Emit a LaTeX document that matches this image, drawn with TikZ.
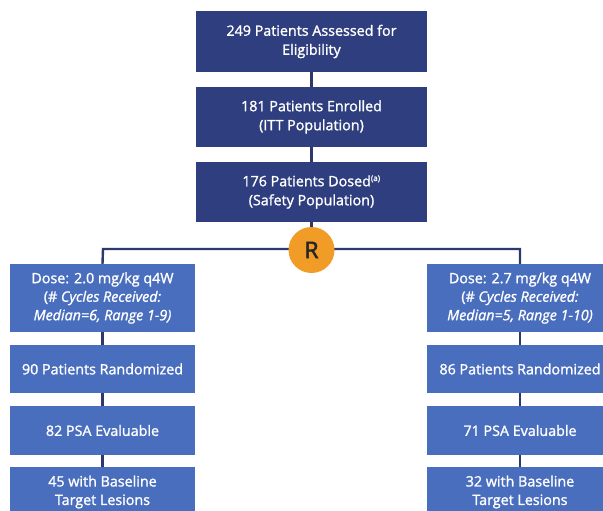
\documentclass[tikz,border=0pt]{standalone}
\usepackage{fontspec}
\setmainfont{Open Sans}
\newfontfamily\semib{Open Sans}[FakeBold=1.4,ItalicFeatures={FakeBold=1.2}]
\newfontfamily\rfont{Open Sans}[FakeBold=2]
\begin{document}
\begin{tikzpicture}[x=1pt,y=-1pt,
  topbox/.style={fill=topblue,draw=none,text=white,align=center,font=\semib\fontsize{14.3}{19}\selectfont,inner sep=0pt},
  lowbox/.style={fill=lowblue,draw=none,text=white,align=center,font=\semib\fontsize{14.3}{18.5}\selectfont,inner sep=0pt},
  conn/.style={draw=linecol,line width=2.4pt}]
\definecolor{topblue}{RGB}{47,62,126}
\definecolor{lowblue}{RGB}{74,110,190}
\definecolor{linecol}{RGB}{44,56,110}
\definecolor{orangeR}{RGB}{242,156,40}
\useasboundingbox (0,0) rectangle (603,511);
\begin{scope}
\clip (0,0) rectangle (603,511);
% top boxes
\node[topbox,minimum width=231pt,minimum height=61pt] (a) at (311.5,41.5) {249 Patients Assessed for\\Eligibility};
\node[topbox,minimum width=231pt,minimum height=60pt] (b) at (311.5,117) {181 Patients Enrolled\\(ITT Population)};
\node[topbox,minimum width=231pt,minimum height=60pt] (c) at (311.5,192) {176 Patients Dosed\textsuperscript{\fontsize{8}{8}\selectfont(a)}\\(Safety Population)};
% R circle
\coordinate (hl) at (103,249);
\coordinate (hr) at (520,249);
% left column
\node[lowbox,minimum width=185pt,minimum height=68pt] (l1) at (102.5,298) {Dose: 2.0 mg/kg q4W\\(\# \textit{Cycles Received:}\\\textit{Median=6, Range 1-9)}};
\node[lowbox,minimum width=185pt,minimum height=48pt] (l2) at (102.5,369) {90 Patients Randomized};
\node[lowbox,minimum width=185pt,minimum height=49pt] (l3) at (102.5,430.5) {82 PSA Evaluable};
\node[lowbox,minimum width=185pt,minimum height=50pt] (l4) at (102.5,492) {45 with Baseline\\Target Lesions};
% right column
\node[lowbox,minimum width=186pt,minimum height=68pt] (r1) at (520,298) {Dose: 2.7 mg/kg q4W\\(\# \textit{Cycles Received:}\\\textit{Median=5, Range 1-10)}};
\node[lowbox,minimum width=186pt,minimum height=48pt] (r2) at (520,369) {86 Patients Randomized};
\node[lowbox,minimum width=186pt,minimum height=49pt] (r3) at (520,430.5) {71 PSA Evaluable};
\node[lowbox,minimum width=186pt,minimum height=50pt] (r4) at (520,492) {32 with Baseline\\Target Lesions};
% connectors
\draw[conn] (a.south) -- (b.north);
\draw[conn] (b.south) -- (c.north);
\draw[conn] (c.south) -- (311.5,249);
\draw[conn] (l1.north) -- (hl) -- (hr) -- (r1.north);
\draw[conn] (l1.south) -- (l2.north);
\draw[conn] (l2.south) -- (l3.north);
\draw[conn] (l3.south) -- (l4.north);
\draw[conn] (r1.south) -- (r2.north);
\draw[conn] (r2.south) -- (r3.north);
\draw[conn] (r3.south) -- (r4.north);
\node[circle,fill=orangeR,minimum size=46pt,inner sep=0pt,font=\rfont\fontsize{23}{24}\selectfont,text=black!85] (R) at (311.5,250) {R};
\end{scope}
\end{tikzpicture}
\end{document}
